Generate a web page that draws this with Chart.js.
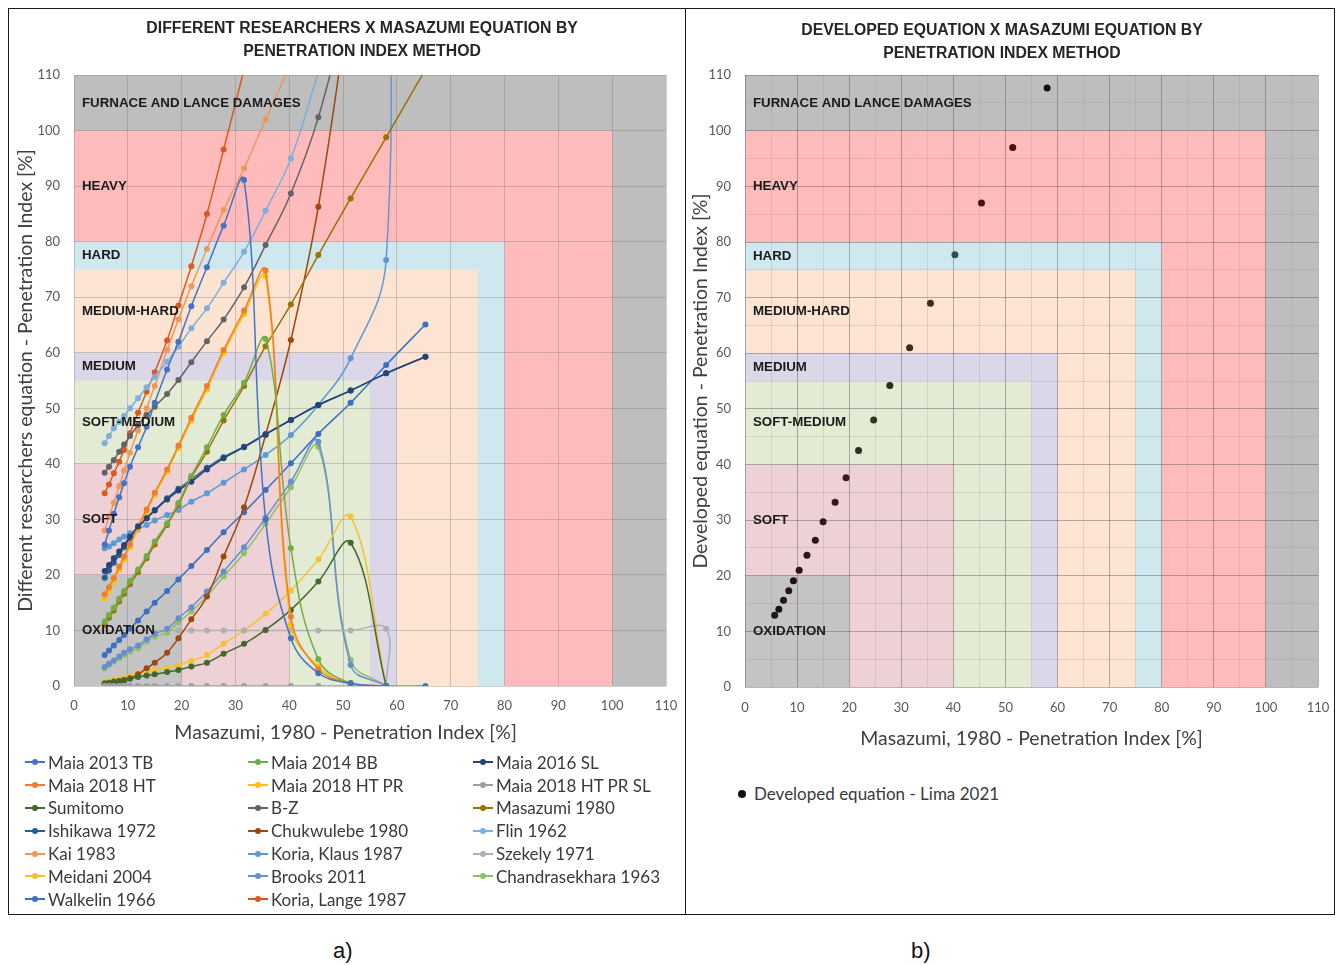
<!DOCTYPE html>
<html>
<head>
<meta charset="utf-8">
<script src="https://cdn.jsdelivr.net/npm/chart.js@4.4.1/dist/chart.umd.min.js"></script>
<style>
  body { margin: 0; background: #fff; width: 1344px; height: 965px; position: relative; overflow: hidden; font-family: Lato, "Open Sans", sans-serif; }
  .panel { position: absolute; top: 8px; height: 907px; border: 1.5px solid #1a1a1a; box-sizing: border-box; }
  #panelA { left: 8px; width: 678px; }
  #panelB { left: 684.5px; width: 650px; }
  canvas { position: absolute; }
  #chartA { left: 9px; top: 9px; }
  #chartB { left: 686px; top: 9px; }
  .legend { position: absolute; color: #3a3a3a; font-size: 17px; }
  #legendA { left: 25px; top: 751px; display: grid; grid-template-columns: 223px 225px 210px; grid-auto-rows: 22.8px; }
  #legendB { left: 738px; top: 783px; }
  .item { display: flex; align-items: center; white-space: nowrap; }
  .sw { position: relative; width: 20px; height: 12px; margin-right: 3px; flex: none; }
  .sw i { position: absolute; left: 0; right: 0; top: 5px; height: 2px; }
  .sw b { position: absolute; left: 7px; top: 3px; width: 6px; height: 6px; border-radius: 50%; }
  .dot { width: 8px; height: 8px; border-radius: 50%; background: #111; margin-right: 8px; }
  .cap { position: absolute; top: 938px; font-family: "Liberation Sans", Arial, sans-serif; font-size: 22px; color: #111; }
</style>
</head>
<body>
<div class="panel" id="panelA"></div>
<div class="panel" id="panelB"></div>
<canvas id="chartA" width="676" height="745"></canvas>
<canvas id="chartB" width="646" height="750"></canvas>
<div class="legend" id="legendA"></div>
<div class="legend" id="legendB"><div class="item"><span class="dot"></span>Developed equation - Lima 2021</div></div>
<div class="cap" style="left:333px">a)</div>
<div class="cap" style="left:911px">b)</div>

<script>
// Masazumi penetration index (x) shared by the series
const piX = [5.7, 6.5, 7.4, 8.4, 9.3, 10.4, 11.9, 13.5, 15.0, 17.3, 19.4, 21.8, 24.7, 27.8, 31.6, 35.6, 40.3, 45.4, 51.4, 58.0, 65.3];
// same, but the last point stays at x = 58 (series that turn vertical there)
const piXEnd = [5.7, 6.5, 7.4, 8.4, 9.3, 10.4, 11.9, 13.5, 15.0, 17.3, 19.4, 21.8, 24.7, 27.8, 31.6, 35.6, 40.3, 45.4, 51.4, 58.0, 58.0];

const maia2013TB = [25.5, 28, 31, 34, 36.5, 39.5, 43, 46.7, 51, 57, 62, 68.4, 75.4, 82.9, 91.1, 30, 8.6, 2.3, 0.5, 0, 0];
const maia2014BB = [11.6, 12.8, 14.1, 15.7, 17.1, 18.9, 21, 23.4, 26, 29.3, 33, 37.8, 43, 48.8, 54.6, 62.5, 24.8, 4.8, 0.5, 0, null];
const maia2016SL = [20.7, 21.8, 23, 24.2, 25.4, 26.9, 28.7, 30.2, 31.6, 33.6, 35.2, 36.8, 39, 41, 43, 45.3, 47.9, 50.6, 53.2, 56.3, 59.3];
const maia2018HT = [16.5, 17.8, 19.4, 21.5, 23.3, 25.5, 28.8, 31.8, 34.8, 39, 43.3, 48.3, 54, 60.5, 67.6, 74.8, 12.5, 3, 0.5, 0, null];
const maia2018HTPR = [15.8, 17.2, 18.8, 21, 22.8, 25, 28.3, 31.3, 34.4, 38.6, 42.9, 47.8, 53.4, 60, 67, 73.8, 11, 3.5, 0.3, 0, null];
const maia2018HTPRSL = [0, 0, 0, 0, 0, 0, 0, 0, 0, 0, 0, 0, 0, 0, 0, 0, 0, 0, 0, 0, null];
const sumitomo = [0.5, 0.6, 0.8, 0.9, 1.1, 1.3, 1.6, 1.9, 2.1, 2.5, 2.9, 3.5, 4.2, 5.8, 7.6, 10.1, 13.7, 18.8, 25.8, 0, null];
const bz = [38.4, 39.5, 40.7, 42.2, 43.5, 45, 47, 48.8, 50.3, 52.6, 55.1, 58.3, 62.1, 66, 71.8, 79.4, 88.7, 102.4, 125, null, null];
const masazumi1980 = [11, 12.3, 13.6, 15.2, 16.6, 18.3, 20.5, 23, 25.5, 29, 32.6, 37.5, 42.2, 47.8, 54, 61.2, 68.7, 77.6, 87.8, 98.8, 111];
const ishikawa1972 = [19.5, 20.8, 22.2, 23.6, 25, 26.6, 28.5, 30.2, 31.7, 33.8, 35.5, 37.2, 39.3, 41.2, 43.1, 45.4, 47.9, 50.6, 53.2, 56.3, 59.3];
const chukwulebe1980 = [0.3, 0.4, 0.6, 0.8, 1.0, 1.4, 2.1, 3.2, 4.2, 6.0, 8.6, 12.0, 16.1, 23.3, 32.2, 45.2, 62.3, 86.3, 125, null, null];
const flin1962 = [43.7, 45, 46.4, 47.6, 48.6, 50, 51.8, 53.8, 55.7, 58.4, 61.1, 64.4, 68, 72.6, 78.2, 85.6, 95, 110.5, null, null, null];
const kai1983 = [28, 30.5, 33, 36, 38.8, 42, 46, 50, 54, 60.5, 66, 72, 78.7, 85.7, 93.2, 102, 112, null, null, null, null];
const koriaKlaus1987 = [24.8, 25.1, 25.7, 26.4, 26.9, 27.5, 28.2, 29, 29.8, 30.8, 31.7, 33.2, 34.7, 36.6, 39, 41.6, 45.2, 50.6, 59, 76.7, 160];
const szekely1971 = [null, null, null, null, null, null, null, null, null, null, 10, 10, 10, 10, 10, 10, 10, 10, 10, 10.3, 0];
const meidani2004 = [0.8, 0.9, 1.1, 1.3, 1.5, 1.8, 2.2, 2.6, 2.9, 3.3, 3.8, 4.5, 5.6, 7.6, 10, 13, 17.2, 22.8, 30.5, 0, null];
const brooks2011 = [3.4, 4.0, 4.6, 5.3, 6.0, 6.6, 7.3, 8.4, 9.4, 10.3, 12.2, 14.2, 17.0, 20.6, 25.0, 30.3, 36.8, 44.0, 3.8, 0, null];
const chandrasekhara1963 = [3.2, 3.8, 4.4, 5.0, 5.6, 6.2, 6.8, 8.0, 8.9, 9.6, 11.5, 13.4, 16.2, 19.7, 23.9, 29.2, 35.8, 43.1, 4.7, 0, null];
const walkelin1966 = [5.6, 6.4, 7.3, 8.3, 9.2, 10.3, 11.8, 13.4, 15.0, 17.1, 19.2, 21.6, 24.5, 27.7, 31.3, 35.3, 40.1, 45.4, 51.0, 57.8, 65.1];
const koriaLange1987 = [34.7, 36.3, 38.3, 40.4, 42.5, 45.5, 49.2, 53, 56.5, 62.2, 68.5, 75.6, 85, 96.6, 111, null, null, null, null, null, null];

// developed equation (chart b)
const limaX = [5.7, 6.5, 7.4, 8.4, 9.3, 10.4, 11.9, 13.5, 15.0, 17.3, 19.4, 21.8, 24.7, 27.8, 31.6, 35.6, 40.3, 45.4, 51.4, 58.0];
const limaY = [12.9, 14.0, 15.6, 17.3, 19.1, 21.0, 23.7, 26.4, 29.7, 33.2, 37.6, 42.5, 48.0, 54.2, 61.0, 69.0, 77.7, 87.0, 97.0, 107.7];

// slag classes: upper limit of each square zone
const zoneNames = ['FURNACE AND LANCE DAMAGES', 'HEAVY', 'HARD', 'MEDIUM-HARD', 'MEDIUM', 'SOFT-MEDIUM', 'SOFT', 'OXIDATION'];
const zoneLimits = [110, 100, 80, 75, 60, 55, 40, 20];
const zoneColors = ['#BEBEBE', '#FFBBBC', '#CFE8EF', '#FCE3D2', '#DCD7E8', '#E3EBD4', '#EDD1D5', '#C4C4C4'];

const seriesA = [
    ['Maia 2013 TB', piX, maia2013TB, '#4472C4'],
    ['Maia 2014 BB', piX, maia2014BB, '#70AD47'],
    ['Maia 2016 SL', piX, maia2016SL, '#264478'],
    ['Maia 2018 HT', piX, maia2018HT, '#ED7D31'],
    ['Maia 2018 HT PR', piX, maia2018HTPR, '#FFC000'],
    ['Maia 2018 HT PR SL', piX, maia2018HTPRSL, '#A0A0A0'],
    ['Sumitomo', piX, sumitomo, '#43682B'],
    ['B-Z', piX, bz, '#636363'],
    ['Masazumi 1980', piX, masazumi1980, '#997300'],
    ['Ishikawa 1972', piX, ishikawa1972, '#255E91'],
    ['Chukwulebe 1980', piX, chukwulebe1980, '#9E480E'],
    ['Flin 1962', piX, flin1962, '#7CAFDD'],
    ['Kai 1983', piX, kai1983, '#F1975A'],
    ['Koria, Klaus 1987', piXEnd, koriaKlaus1987, '#5B9BD5'],
    ['Szekely 1971', piXEnd, szekely1971, '#B0B0B0'],
    ['Meidani 2004', piX, meidani2004, '#F5C232'],
    ['Brooks 2011', piX, brooks2011, '#698ED0'],
    ['Chandrasekhara 1963', piX, chandrasekhara1963, '#8CC168'],
    ['Walkelin 1966', piX, walkelin1966, '#3A70BF'],
    ['Koria, Lange 1987', piX, koriaLange1987, '#D95A1C'],
];

function toPoints(xs, ys) {
    const pts = [];
    ys.forEach((v, i) => { if (v !== null) pts.push({ x: xs[i], y: v }); });
    return pts;
}

Chart.defaults.font.family = 'Lato, "Open Sans", sans-serif';
Chart.defaults.color = '#595959';
const boldFamily = '"Liberation Sans", Arial, sans-serif';
const en = '\u2002';   // trailing spaces nudge a centred title to the left, as in the source

const zonePlugin = {
    id: 'zones',
    beforeDraw(chart) {
        const { ctx, scales: { x, y } } = chart;
        ctx.save();
        zoneLimits.forEach((lim, i) => {
            const x0 = x.getPixelForValue(0), x1 = x.getPixelForValue(lim);
            const y0 = y.getPixelForValue(0), y1 = y.getPixelForValue(lim);
            ctx.fillStyle = zoneColors[i];
            ctx.fillRect(x0, y1, x1 - x0, y0 - y1);
        });
        ctx.restore();
    },
    afterDatasetsDraw(chart) {
        const { ctx, scales: { x, y } } = chart;
        ctx.save();
        ctx.font = 'bold 13.3px ' + boldFamily;
        ctx.fillStyle = '#1a1a1a';
        ctx.textBaseline = 'middle';
        zoneNames.forEach((name, i) => {
            const below = zoneLimits[i + 1] || 0;
            const mid = (zoneLimits[i] + below) / 2;
            ctx.fillText(name, x.getPixelForValue(0) + 8, y.getPixelForValue(mid));
        });
        ctx.restore();
    }
};

function axis(cfg) {
    return {
        type: 'linear', min: 0, max: 110,
        ticks: { stepSize: cfg.step, padding: cfg.tickPad, font: { size: 13 }, color: '#595959', autoSkip: false,
                 maxRotation: 0, minRotation: 0,
                 callback: v => (v % 10 === 0 ? v : '') },
        grid: { drawTicks: false, color: cfg.grid },
        border: { display: false },
        title: { display: true, text: cfg.title, color: '#404040', font: { size: cfg.titleSize }, padding: cfg.titlePad },
        afterFit: cfg.fit
    };
}

const chartA = new Chart(document.getElementById('chartA'), {
    type: 'line',
    data: {
        datasets: seriesA.map(([label, xs, ys, color]) => ({
            label, data: toPoints(xs, ys),
            borderColor: color, backgroundColor: color, pointBackgroundColor: color,
            borderWidth: 1.5, pointRadius: 3, pointBorderWidth: 0, tension: 0.4, fill: false
        }))
    },
    options: {
        responsive: false, animation: false, devicePixelRatio: 1,
        layout: { padding: { left: 0, right: 19, top: 0, bottom: 0 } },
        elements: { line: { capBezierPoints: false } },
        plugins: {
            legend: { display: false }, tooltip: { enabled: false },
            title: {
                display: true, fullSize: false, color: '#262626',
                text: ['DIFFERENT RESEARCHERS X MASAZUMI EQUATION BY' + en + en, 'PENETRATION INDEX METHOD' + en + en],
                font: { family: boldFamily, size: 15.8, weight: 'bold', lineHeight: 1.46 }, padding: { top: 8.5, bottom: 11.5 }
            }
        },
        scales: {
            x: axis({ step: 10, tickPad: 12, grid: 'rgba(120,120,120,0.35)',
                      title: 'Masazumi, 1980 - Penetration Index [%]' + en + en + en + en + en,
                      titleSize: 19.5, titlePad: { top: 0, bottom: 10 },
                      fit: s => { s.height = 68; s.paddingLeft = 0; s.paddingRight = 0; } }),
            y: axis({ step: 10, tickPad: 14, grid: 'rgba(120,120,120,0.35)', title: 'Different researchers equation - Penetration Index [%]',
                      titleSize: 19.5, titlePad: { top: 5, bottom: 0 },
                      fit: s => { s.width = 65; } })
        }
    },
    plugins: [zonePlugin]
});

// legend a) in three columns, row by row
const legendA = document.getElementById('legendA');
chartA.data.datasets.forEach(ds => {
    const item = document.createElement('div');
    item.className = 'item';
    item.innerHTML = '<span class="sw"><i style="background:' + ds.borderColor + '"></i><b style="background:' +
        ds.borderColor + '"></b></span>' + ds.label;
    legendA.appendChild(item);
});

const minorGrid = ctx => (ctx.tick && ctx.tick.value % 10 === 0 ? 'rgba(90,90,90,0.45)' : 'rgba(130,130,130,0.2)');

new Chart(document.getElementById('chartB'), {
    type: 'scatter',
    data: {
        datasets: [{
            label: 'Developed equation - Lima 2021',
            data: toPoints(limaX, limaY),
            pointRadius: 3.5, pointBorderWidth: 0,
            backgroundColor: ['#1a1a1a', '#1d1212', '#241515', '#281515', '#1d1111', '#2a1414', '#2f1616', '#2b1616', '#331818',
                              '#361a1a', '#3a1a1a', '#27321f', '#2b3a22', '#302a1c', '#3a2a22', '#3e2a1e', '#26505c', '#4a1212', '#4a1010', '#111111']
        }]
    },
    options: {
        responsive: false, animation: false, devicePixelRatio: 1,
        layout: { padding: { left: 0, right: 14, top: 0, bottom: 0 } },
        plugins: {
            legend: { display: false }, tooltip: { enabled: false },
            title: {
                display: true, color: '#262626',
                text: ['DEVELOPED EQUATION X MASAZUMI EQUATION BY', 'PENETRATION INDEX METHOD'],
                font: { family: boldFamily, size: 15.8, weight: 'bold', lineHeight: 1.46 }, padding: { top: 10.5, bottom: 9.5 }
            }
        },
        scales: {
            x: axis({ step: 5, tickPad: 13, grid: minorGrid, title: 'Masazumi, 1980 - Penetration Index [%]',
                      titleSize: 19.5, titlePad: { top: 0, bottom: 9 },
                      fit: s => { s.height = 72; s.paddingLeft = 0; s.paddingRight = 0; } }),
            y: axis({ step: 5, tickPad: 14, grid: minorGrid, title: 'Developed equation - Penetration Index [%]',
                      titleSize: 19.5, titlePad: { top: 3, bottom: 0 },
                      fit: s => { s.width = 59; } })
        }
    },
    plugins: [zonePlugin]
});
</script>
</body>
</html>
